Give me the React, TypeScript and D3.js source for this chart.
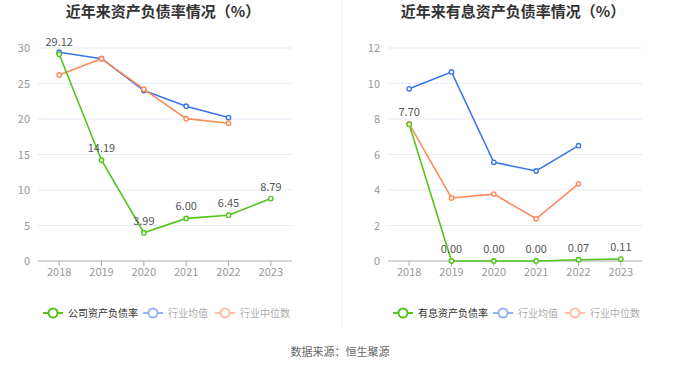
import React from 'react';
import * as d3 from 'd3';

const years = ['2018', '2019', '2020', '2021', '2022', '2023'];

// left chart
const debtCompany = [29.12, 14.19, 3.99, 6.0, 6.45, 8.79];
const debtAvg = [29.4, 28.5, 24.0, 21.8, 20.2, null];
const debtMedian = [26.2, 28.5, 24.2, 20.05, 19.4, null];
const debtTicks = [0, 5, 10, 15, 20, 25, 30];

// right chart
const ibCompany = [7.7, 0.0, 0.0, 0.0, 0.07, 0.11];
const ibAvg = [9.7, 10.65, 5.56, 5.07, 6.5, null];
const ibMedian = [7.72, 3.55, 3.77, 2.38, 4.35, null];
const ibTicks = [0, 2, 4, 6, 8, 10, 12];

const GREEN = '#52c41a';
const BLUE = '#3a77e8';
const ORANGE = '#fb8a5c';
const FONT = '"Noto Sans CJK SC", "Noto Sans", sans-serif';

type Props = {
  left: number;
  title: string;
  company: (number | null)[];
  avg: (number | null)[];
  median: (number | null)[];
  ticks: number[];
  yMax: number;
  names: string[];
  legendX: number[];
};

function Panel({ left, title, company, avg, median, ticks, yMax, names, legendX }: Props) {
  const x = d3.scaleBand<string>().domain(years).range([left, left + 254]);
  const y = d3.scaleLinear().domain([0, yMax]).range([261, 48]);
  const cx = (i: number) => (x(years[i]) as number) + x.bandwidth() / 2;
  const line = d3
    .line<number | null>()
    .defined((d) => d != null)
    .x((_, i) => cx(i))
    .y((d) => y(d as number));

  const series = [
    { data: avg, color: BLUE },
    { data: median, color: ORANGE },
    { data: company, color: GREEN },
  ];
  const legendColors = [GREEN, BLUE, ORANGE];

  return (
    <g>
      <text x={left + 125} y={17} textAnchor="middle" fontSize={15} fontWeight="bold" fill="#333" fontFamily={FONT}>
        {title}
      </text>
      {ticks.map((t) => (
        <g key={t}>
          {t > 0 && <line x1={left} x2={left + 254} y1={y(t)} y2={y(t)} stroke="#e6ebf5" />}
          <text x={left - 8} y={y(t) + 4} textAnchor="end" fontSize={11} fill="#999" fontFamily={FONT}>
            {t}
          </text>
        </g>
      ))}
      <line x1={left} x2={left + 254} y1={261} y2={261} stroke="#aaa" />
      {years.map((yr, i) => (
        <g key={yr}>
          <line x1={cx(i)} x2={cx(i)} y1={261} y2={266} stroke="#aaa" />
          <text x={cx(i)} y={276} textAnchor="middle" fontSize={11} fill="#999" fontFamily={FONT}>
            {yr}
          </text>
        </g>
      ))}
      {series.map((s, k) => (
        <g key={k}>
          <path d={line(s.data) || ''} fill="none" stroke={s.color} strokeWidth={1.6} />
          {s.data.map((d, i) =>
            d == null ? null : (
              <circle key={i} cx={cx(i)} cy={y(d)} r={2.2} fill="#fff" stroke={s.color} strokeWidth={1.4} />
            )
          )}
        </g>
      ))}
      {company.map((d, i) =>
        d == null ? null : (
          <text key={i} x={cx(i)} y={y(d) - 8} textAnchor="middle" fontSize={11} fill="#555" fontFamily={FONT}>
            {d.toFixed(2)}
          </text>
        )
      )}
      {names.map((n, k) => (
        <g key={n} opacity={k === 0 ? 1 : 0.55}>
          <line x1={legendX[k] - 10} x2={legendX[k] + 10} y1={313} y2={313} stroke={legendColors[k]} strokeWidth={2} />
          <circle cx={legendX[k]} cy={313} r={4.5} fill="#fff" stroke={legendColors[k]} strokeWidth={2} />
          <text x={legendX[k] + 15} y={316.5} fontSize={10} fill={k === 0 ? '#333' : '#666'} fontFamily={FONT}>
            {n}
          </text>
        </g>
      ))}
    </g>
  );
}

export default function App() {
  return (
    <svg width={680} height={367} style={{ position: 'absolute', left: 0, top: 0, background: '#fff' }}>
      <rect width={680} height={367} fill="#fff" />
      <line x1={342} x2={342} y1={0} y2={328} stroke="#f0f0f0" />
      <Panel
        left={38}
        title="近年来资产负债率情况（%）"
        company={debtCompany}
        avg={debtAvg}
        median={debtMedian}
        ticks={debtTicks}
        yMax={30}
        names={['公司资产负债率', '行业均值', '行业中位数']}
        legendX={[53, 153, 225]}
      />
      <Panel
        left={388}
        title="近年来有息资产负债率情况（%）"
        company={ibCompany}
        avg={ibAvg}
        median={ibMedian}
        ticks={ibTicks}
        yMax={12}
        names={['有息资产负债率', '行业均值', '行业中位数']}
        legendX={[403, 503, 575]}
      />
      <text x={340} y={356} textAnchor="middle" fontSize={11} fill="#666" fontFamily={FONT}>
        数据来源：恒生聚源
      </text>
    </svg>
  );
}
